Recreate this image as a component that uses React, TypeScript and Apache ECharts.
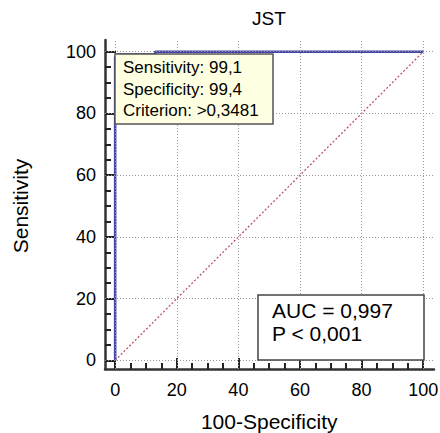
import React, { useEffect, useRef } from "react";
import * as echarts from "echarts";

const majorTicks = [0, 20, 40, 60, 80, 100];
const rocX = [0, 0, 0.6, 0.6, 13, 13, 100];
const rocY = [0, 98.3, 98.3, 99.1, 99.1, 100, 100];
const diagX = [0, 100];
const diagY = [0, 100];
const titleText = "JST";
const xName = "100-Specificity";
const yName = "Sensitivity";
const boxLines = ["Sensitivity: 99,1", "Specificity: 99,4", "Criterion: >0,3481"];
const aucLines = ["AUC = 0,997", "P < 0,001"];

const FONT = "'Liberation Sans', Arial, sans-serif";
const AXIS_COLOR = "#333";

export default function App() {
  const ref = useRef<HTMLDivElement>(null);
  useEffect(() => {
    if (!ref.current) return;
    const chart = echarts.init(ref.current, undefined, { renderer: "svg" });
    const xMin = -3.3, xMax = 103.5, yMin = -2.8, yMax = 103.8;
    const gridLeft = 105, gridTop = 40, gridW = 329, gridH = 329;
    const pxX = gridW / (xMax - xMin);
    const pxY = gridH / (yMax - yMin);
    const inLeft = gridLeft + (0 - xMin) * pxX;
    const inW = 100 * pxX;
    const inTop = gridTop + (yMax - 100) * pxY;
    const inH = 100 * pxY;

    const hidden = (gridIndex: number) => ({
      type: "value",
      gridIndex,
      show: false,
      min: 0,
      max: 100,
    });

    const frameAxis = (isX: boolean) => ({
      type: "value",
      gridIndex: 0,
      min: isX ? xMin : yMin,
      max: isX ? xMax : yMax,
      position: isX ? "bottom" : "left",
      axisLine: { show: true, onZero: false, lineStyle: { color: AXIS_COLOR, width: 2.5 } },
      axisTick: { show: false },
      axisLabel: { show: false },
      splitLine: { show: false },
      minorTick: { show: false },
    });

    const tickAxis = (isX: boolean) => ({
      type: "value",
      gridIndex: isX ? 1 : 2,
      min: 0,
      max: 100,
      interval: 20,
      position: isX ? "bottom" : "left",
      name: isX ? xName : yName,
      nameLocation: "middle",
      nameGap: isX ? 42 : 74,
      nameTextStyle: { fontFamily: FONT, fontSize: 21, color: "#000" },
      axisLine: { show: false, onZero: false },
      axisTick: { show: true, inside: true, length: 11, lineStyle: { color: "#222", width: 2 } },
      minorTick: { show: true, splitNumber: 4, length: 6, lineStyle: { color: "#222", width: 2 } },
      axisLabel: { show: true, fontFamily: FONT, fontSize: 18, color: "#000", margin: isX ? 12 : 9 },
      splitLine: { show: false },
    });

    const gridLines = [
      ...majorTicks.map((v) => ({ xAxis: v })),
      ...majorTicks.map((v) => ({ yAxis: v })),
    ];

    chart.setOption({
      animation: false,
      backgroundColor: "#fff",
      title: {
        text: titleText,
        left: 269,
        top: 9,
        textAlign: "center",
        padding: 0,
        textStyle: { fontFamily: FONT, fontSize: 19, fontWeight: "normal", color: "#000" },
      },
      grid: [
        { left: gridLeft, top: gridTop, width: gridW, height: gridH, containLabel: false, outerBoundsMode: "none" },
        { left: inLeft, top: gridTop, width: inW, height: gridH, containLabel: false, outerBoundsMode: "none" },
        { left: gridLeft, top: inTop, width: gridW, height: inH, containLabel: false, outerBoundsMode: "none" },
      ],
      xAxis: [frameAxis(true), tickAxis(true), hidden(2)],
      yAxis: [frameAxis(false), hidden(1), tickAxis(false)],
      series: [
        {
          type: "line",
          xAxisIndex: 0,
          yAxisIndex: 0,
          data: diagX.map((x, i) => [x, diagY[i]]),
          showSymbol: false,
          symbol: "none",
          z: 2,
          lineStyle: { color: "#b84858", width: 1.2, type: [2, 2] },
          markLine: {
            silent: true,
            symbol: "none",
            label: { show: false },
            lineStyle: { color: "#9a9a9a", width: 1, type: [1, 2] },
            data: gridLines,
          },
        },
        {
          type: "line",
          xAxisIndex: 0,
          yAxisIndex: 0,
          data: rocX.map((x, i) => [x, rocY[i]]),
          showSymbol: false,
          symbol: "none",
          z: 3,
          lineStyle: { color: "#4646a6", width: 2.6 },
        },
      ],
      graphic: [
        {
          type: "rect",
          z: 100,
          shape: { x: 115, y: 54, width: 158, height: 70 },
          style: { fill: "#ffffe1", stroke: "#555", lineWidth: 1.5 },
        },
        {
          type: "text",
          z: 101,
          x: 123,
          y: 57,
          style: {
            text: boxLines.join("\n"),
            fontFamily: FONT,
            fontSize: 17,
            lineHeight: 21.5,
            fill: "#000",
          },
        },
        {
          type: "rect",
          z: 100,
          shape: { x: 258, y: 295, width: 166, height: 65 },
          style: { fill: "#fff", stroke: "#444", lineWidth: 1.5 },
        },
        {
          type: "text",
          z: 101,
          x: 272,
          y: 299,
          style: {
            text: aucLines.join("\n"),
            fontFamily: FONT,
            fontSize: 21,
            lineHeight: 23,
            fill: "#000",
          },
        },
      ],
    });
    return () => chart.dispose();
  }, []);
  return <div ref={ref} style={{ position: "fixed", left: 0, top: 0, width: 440, height: 433 }} />;
}
